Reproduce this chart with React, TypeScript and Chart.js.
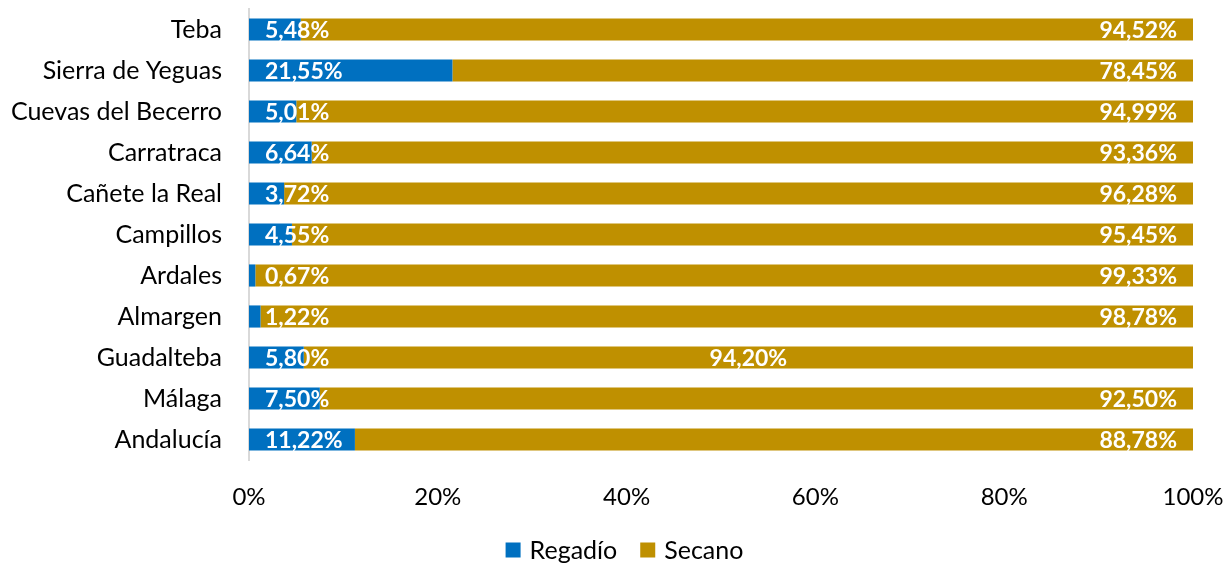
import React, { useEffect, useRef } from "react";
import { Chart, registerables } from "chart.js";

Chart.register(...registerables);

const categories = [
  "Teba",
  "Sierra de Yeguas",
  "Cuevas del Becerro",
  "Carratraca",
  "Cañete la Real",
  "Campillos",
  "Ardales",
  "Almargen",
  "Guadalteba",
  "Málaga",
  "Andalucía",
];
const regadio = [5.48, 21.55, 5.01, 6.64, 3.72, 4.55, 0.67, 1.22, 5.8, 7.5, 11.22];
const secano = [94.52, 78.45, 94.99, 93.36, 96.28, 95.45, 99.33, 98.78, 94.2, 92.5, 88.78];
const secanoLabelAlign = ["end", "end", "end", "end", "end", "end", "end", "end", "center", "end", "end"];
const xTicks = [0, 20, 40, 60, 80, 100];

const FONT = "Lato";

const fmt = (v: number) => v.toFixed(2).replace(".", ",") + "%";

const labelPlugin = {
  id: "barLabels",
  afterDatasetsDraw(chart: any) {
    const ctx = chart.ctx;
    ctx.save();
    ctx.fillStyle = "#ffffff";
    ctx.font = `bold 23px ${FONT}`;
    ctx.textBaseline = "middle";
    chart.data.datasets.forEach((ds: any, di: number) => {
      const meta = chart.getDatasetMeta(di);
      meta.data.forEach((el: any, i: number) => {
        const v = ds.data[i];
        const txt = fmt(v);
        const start = Math.min(el.base, el.x);
        const end = Math.max(el.base, el.x);
        if (di === 0) {
          ctx.textAlign = "left";
          ctx.fillText(txt, start + 16, el.y + 1);
        } else {
          if (secanoLabelAlign[i] === "center") {
            ctx.textAlign = "center";
            ctx.fillText(txt, (start + end) / 2, el.y + 1);
          } else {
            ctx.textAlign = "right";
            ctx.fillText(txt, end - 16, el.y + 1);
          }
        }
      });
    });
    ctx.restore();
  },
};

const legendPlugin = {
  id: "customLegend",
  afterDraw(chart: any) {
    const ctx = chart.ctx;
    ctx.save();
    ctx.font = `25px ${FONT}`;
    ctx.textBaseline = "middle";
    ctx.textAlign = "left";
    const box = 15;
    const gapBoxText = 9;
    const gapItems = 23;
    const items = chart.data.datasets.map((ds: any) => ({
      label: ds.label,
      color: ds.backgroundColor,
      w: box + gapBoxText + ctx.measureText(ds.label).width,
    }));
    const total = items.reduce((s: number, it: any) => s + it.w, 0) + gapItems * (items.length - 1);
    let x = chart.width / 2 + 11 - total / 2;
    const y = 550;
    items.forEach((it: any) => {
      ctx.fillStyle = it.color;
      ctx.fillRect(x, y - box / 2, box, box);
      ctx.fillStyle = "#000";
      ctx.fillText(it.label, x + box + gapBoxText, y + 1);
      x += it.w + gapItems;
    });
    ctx.restore();
  },
};

const zeroPad = (axis: any) => {
  axis.paddingTop = 0;
  axis.paddingBottom = 0;
  axis.paddingLeft = 0;
  axis.paddingRight = 0;
};

export default function App() {
  const ref = useRef<HTMLCanvasElement>(null);
  useEffect(() => {
    document.body.style.margin = "0";
    const chart = new Chart(ref.current!, {
      type: "bar",
      data: {
        labels: categories,
        datasets: [
          {
            label: "Regadío",
            data: regadio,
            backgroundColor: "#0070C0",
            barPercentage: 0.54,
            categoryPercentage: 1,
          },
          {
            label: "Secano",
            data: secano,
            backgroundColor: "#BF9000",
            barPercentage: 0.54,
            categoryPercentage: 1,
          },
        ],
      },
      options: {
        indexAxis: "y",
        animation: false,
        responsive: false,
        layout: { padding: { top: 9, right: 34, left: 0, bottom: 43 } },
        scales: {
          x: {
            stacked: true,
            min: 0,
            max: 100,
            afterBuildTicks: (axis: any) => {
              axis.ticks = xTicks.map((v) => ({ value: v }));
            },
            ticks: {
              callback: (v: any) => v + "%",
              color: "#000",
              font: { family: FONT, size: 24 },
              padding: 23,
              maxRotation: 0,
            },
            grid: { display: false, drawTicks: false },
            border: { display: false },
            afterFit: (axis: any) => {
              axis.height = 60;
              zeroPad(axis);
            },
          },
          y: {
            stacked: true,
            ticks: {
              color: "#000",
              font: { family: FONT, size: 25 },
              padding: 27,
            },
            grid: { display: false, drawTicks: false },
            border: { display: true, color: "#D9D9D9", width: 2 },
            afterFit: (axis: any) => {
              axis.width = 249;
              zeroPad(axis);
            },
          },
        },
        plugins: {
          legend: { display: false },
          tooltip: { enabled: false },
        },
      },
      plugins: [labelPlugin, legendPlugin],
    } as any);
    return () => chart.destroy();
  }, []);
  return (
    <div style={{ position: "absolute", left: 0, top: 0, width: 1227, height: 563 }}>
      <canvas ref={ref} width={1227} height={563} style={{ width: 1227, height: 563 }} />
    </div>
  );
}
